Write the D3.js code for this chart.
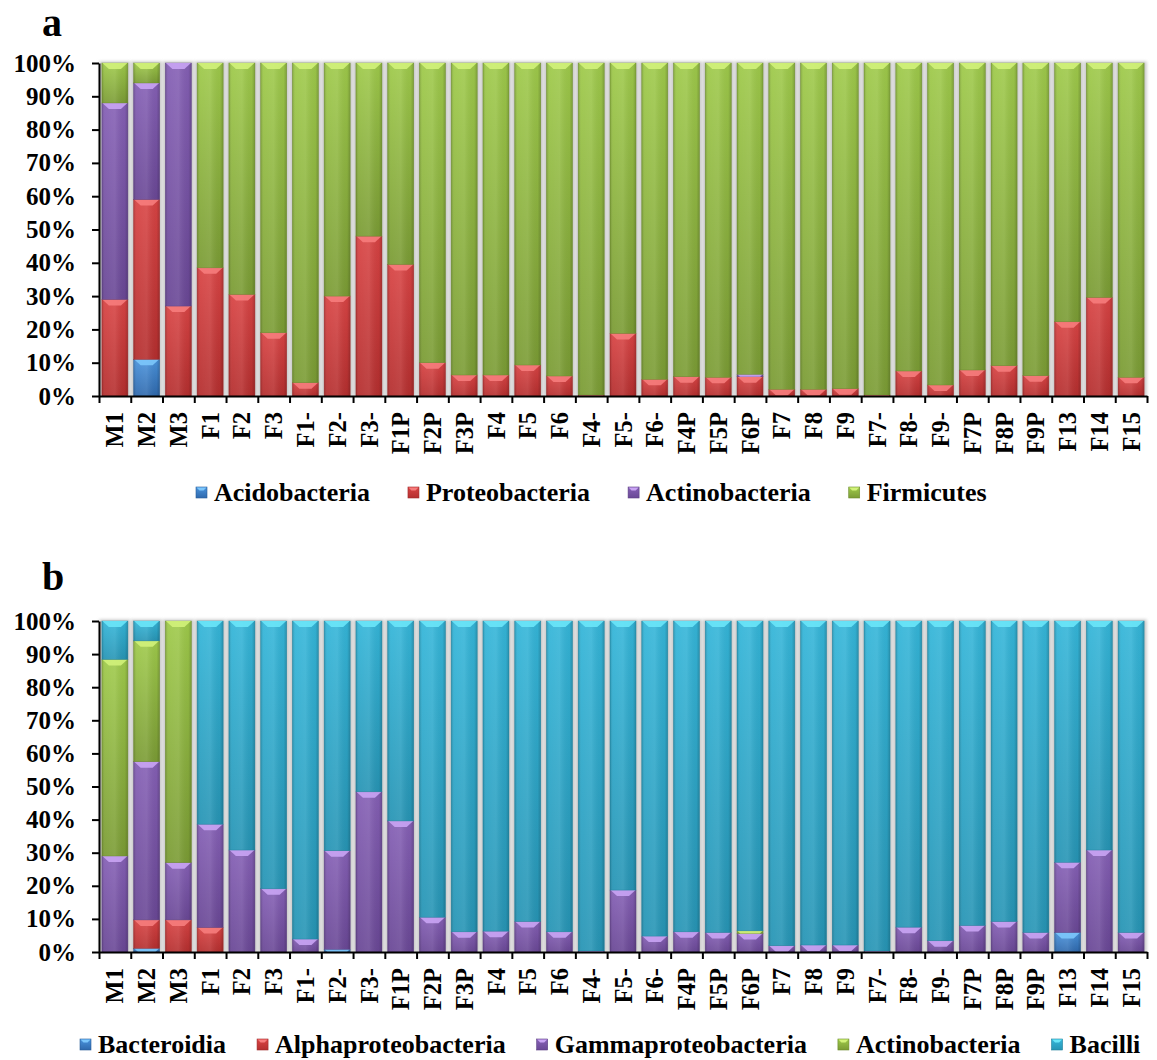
<!DOCTYPE html>
<html>
<head>
<meta charset="utf-8">
<script src="https://cdn.jsdelivr.net/npm/d3@7"></script>
<style>
  body { margin: 0; background: #fff; }
  text { font-family: "Liberation Serif", "Times New Roman", serif; font-weight: bold; fill: #000; }
</style>
</head>
<body>
<svg id="chart" width="1157" height="1060"></svg>
<script>
// Sample names (x categories), shared by both panels
const samples = ["M1","M2","M3","F1","F2","F3","F1-","F2-","F3-","F1P","F2P","F3P",
  "F4","F5","F6","F4-","F5-","F6-","F4P","F5P","F6P","F7","F8","F9",
  "F7-","F8-","F9-","F7P","F8P","F9P","F13","F14","F15"];

// Panel a: relative abundance (%) at phylum level
const phylumNames = ["Acidobacteria","Proteobacteria","Actinobacteria","Firmicutes"];
const acidobacteria  = [0,11,0,0,0,0,0,0,0,0,0,0,0,0,0,0,0,0,0,0,0,0,0,0,0,0,0,0,0,0,0,0,0];
const proteobacteria = [29,48,27,38.5,30.5,19,4,30,48,39.5,10,6.3,6.3,9.3,6,0.3,18.8,5,5.8,5.6,5.8,2,2,2.2,0.3,7.5,3.3,7.8,9.1,6.1,22.3,29.6,5.6];
const actinoPhylum   = [59,35,73,0,0,0,0,0,0,0,0,0,0,0,0,0,0,0,0,0,0.7,0,0,0,0,0,0,0,0,0,0,0,0];
const firmicutes     = [12,6,0,61.5,69.5,81,96,70,52,60.5,90,93.7,93.7,90.7,94,99.7,81.2,95,94.2,94.4,93.5,98,98,97.8,99.7,92.5,96.7,92.2,90.9,93.9,77.7,70.4,94.4];

// Panel b: relative abundance (%) at class level
const classNames = ["Bacteroidia","Alphaproteobacteria","Gammaproteobacteria","Actinobacteria","Bacilli"];
const bacteroidia = [0,1.1,0,0,0,0,0,0.8,0,0,0,0,0,0,0,0,0,0,0,0,0,0,0,0,0,0,0,0,0,0,5.9,0,0];
const alphaproteo = [0,8.6,9.7,7.4,0,0,0,0,0,0,0,0,0,0,0,0,0,0,0,0,0,0,0,0,0,0,0,0,0,0,0,0,0];
const gammaproteo = [29,47.8,17.3,31.2,30.8,19.1,3.9,29.8,48.4,39.6,10.5,6.1,6.3,9.2,6.1,0.3,18.7,4.8,6.1,5.9,5.6,1.9,2.1,2.1,0.3,7.5,3.4,8,9.2,5.9,21.2,30.8,5.9];
const actinoClass = [59.4,36.5,73,0,0,0,0,0,0,0,0,0,0,0,0,0,0,0,0,0,0.8,0,0,0,0,0,0,0,0,0,0,0,0];
const bacilli     = [11.6,6,0,61.4,69.2,80.9,96.1,69.4,51.6,60.4,89.5,93.9,93.7,90.8,93.9,99.7,81.3,95.2,93.9,94.1,93.6,98.1,97.9,97.9,99.7,92.5,96.6,92,90.8,94.1,72.9,69.2,94.1];

const yTicks = [0,10,20,30,40,50,60,70,80,90,100];

// Bevelled fill styles: light top, dark bottom, bevel highlight, edge
const palettes = {
  blue:   { top: "#4a93dc", bot: "#2f69ad", bevel: "#7cc6fb", edge: "#2a5c96" },
  red:    { top: "#d84444", bot: "#b52f2f", bevel: "#f67c7c", edge: "#9e2a2a" },
  purple: { top: "#8560b5", bot: "#6a4896", bevel: "#c9a4f4", edge: "#5b3e82" },
  green:  { top: "#9fca4b", bot: "#7b9c35", bevel: "#d2f27a", edge: "#6b8a2c" },
  teal:   { top: "#35b6d9", bot: "#2795b5", bevel: "#6ae6f8", edge: "#20809c" }
};

const svg = d3.select("#chart");
const defs = svg.append("defs");

Object.entries(palettes).forEach(([k, p]) => {
  const g = defs.append("linearGradient").attr("id", "v-" + k)
    .attr("x1", 0).attr("y1", 0).attr("x2", 0).attr("y2", 1);
  g.append("stop").attr("offset", "0%").attr("stop-color", p.top);
  g.append("stop").attr("offset", "100%").attr("stop-color", p.bot);
  const h = defs.append("linearGradient").attr("id", "h-" + k)
    .attr("x1", 0).attr("y1", 0).attr("x2", 1).attr("y2", 0);
  h.append("stop").attr("offset", "0%").attr("stop-color", "#000").attr("stop-opacity", 0.18);
  h.append("stop").attr("offset", "12%").attr("stop-color", "#fff").attr("stop-opacity", 0.06);
  h.append("stop").attr("offset", "50%").attr("stop-color", "#fff").attr("stop-opacity", 0.1);
  h.append("stop").attr("offset", "88%").attr("stop-color", "#000").attr("stop-opacity", 0.04);
  h.append("stop").attr("offset", "100%").attr("stop-color", "#000").attr("stop-opacity", 0.2);
});

const shadow = defs.append("filter").attr("id", "barShadow")
  .attr("x", "-30%").attr("y", "-5%").attr("width", "160%").attr("height", "110%");
shadow.append("feGaussianBlur").attr("stdDeviation", 1.4);

const left = 99, right = 1147;

function drawPanel(cfg) {
  const g = svg.append("g");
  const x = d3.scaleBand().domain(samples).range([left, right]).paddingInner(0.18).paddingOuter(0.09);
  const y = d3.scaleLinear().domain([0, 100]).range([cfg.y0, cfg.y100]);

  const table = samples.map((s, i) => {
    const row = { sample: s };
    cfg.keys.forEach((k, j) => row[k] = cfg.series[j][i]);
    return row;
  });
  const stacked = d3.stack().keys(cfg.keys)(table);

  // soft grey halo behind each column
  g.append("g").selectAll("rect").data(samples).join("rect")
    .attr("x", d => x(d) - 2.5)
    .attr("y", y(100) - 1.5)
    .attr("width", x.bandwidth() + 5)
    .attr("height", y(0) - y(100) + 1.5)
    .attr("fill", "#c9c9c9")
    .attr("filter", "url(#barShadow)");

  const layers = g.append("g").selectAll("g").data(stacked).join("g");
  layers.each(function(layer, li) {
    const pal = cfg.colors[li];
    const segs = layer.map((d, i) => ({ s: samples[i], y0: d[0], y1: d[1] })).filter(d => d.y1 - d.y0 > 0);
    const sel = d3.select(this).selectAll("g").data(segs).join("g");
    sel.append("rect")
      .attr("x", d => x(d.s)).attr("y", d => y(d.y1))
      .attr("width", x.bandwidth())
      .attr("height", d => Math.max(0.6, y(d.y0) - y(d.y1)))
      .attr("fill", `url(#v-${pal})`);
    sel.append("rect")
      .attr("x", d => x(d.s)).attr("y", d => y(d.y1))
      .attr("width", x.bandwidth())
      .attr("height", d => Math.max(0.6, y(d.y0) - y(d.y1)))
      .attr("fill", `url(#h-${pal})`)
      .attr("stroke", palettes[pal].edge).attr("stroke-width", 0.6).attr("stroke-opacity", 0.7);
    // top bevel highlight
    sel.append("path")
      .attr("d", d => {
        const x0 = x(d.s), w = x.bandwidth(), t = y(d.y1);
        const h = Math.min(6, y(d.y0) - y(d.y1));
        const inset = Math.min(7, h * 1.2);
        return `M${x0 + 0.5},${t}L${x0 + w - 0.5},${t}L${x0 + w - inset},${t + h}L${x0 + inset},${t + h}Z`;
      })
      .attr("fill", palettes[pal].bevel).attr("opacity", 0.9);
  });

  // y axis
  const ya = g.append("g").attr("transform", `translate(${left},0)`)
    .call(d3.axisLeft(y).tickValues(yTicks).tickFormat(d => d + "%").tickSize(7).tickSizeOuter(0));
  ya.select(".domain").attr("stroke", "#000").attr("stroke-width", 2);
  ya.selectAll(".tick line").attr("stroke", "#000").attr("stroke-width", 2);
  ya.selectAll(".tick text").attr("x", -23).attr("font-size", 25)
    .style("font-family", '"Liberation Serif", serif').style("font-weight", "bold");

  // x axis line with ticks on category boundaries
  const bounds = d3.scaleLinear().domain([0, samples.length]).range([left, right]);
  const xa = g.append("g").attr("transform", `translate(0,${cfg.y0})`)
    .call(d3.axisBottom(bounds).tickValues(d3.range(0, samples.length + 1)).tickFormat("").tickSize(7).tickSizeOuter(0));
  xa.select(".domain").attr("stroke", "#000").attr("stroke-width", 2);
  xa.selectAll(".tick line").attr("stroke", "#000").attr("stroke-width", 2);

  // rotated category labels
  g.append("g").selectAll("text").data(samples).join("text")
    .attr("transform", d => `translate(${x(d) + x.bandwidth() / 2},${cfg.y0 + 16}) rotate(-90)`)
    .attr("text-anchor", "end").attr("dy", "0.35em")
    .attr("font-size", 24.5).text(d => d);

  // panel letter
  svg.append("text").attr("x", cfg.letterX).attr("y", cfg.letterY)
    .attr("font-size", 40).text(cfg.letter);

  // legend: square swatch then name, laid out left to right
  const lg = svg.append("g");
  const items = lg.selectAll("g").data(cfg.names).join("g");
  items.append("text").attr("x", 18).attr("y", 0).attr("dy", "0.35em")
    .attr("font-size", 26).text(d => d);
  let cx = cfg.legendX;
  items.each(function() {
    const w = d3.select(this).select("text").node().getComputedTextLength();
    d3.select(this).attr("transform", `translate(${cx},${cfg.legendY})`);
    cx += 18 + w + cfg.legendGap;
  });
  items.append("rect").attr("x", 0).attr("y", -5).attr("width", 11).attr("height", 11)
    .attr("fill", (d, i) => `url(#v-${cfg.colors[i]})`)
    .attr("stroke", (d, i) => palettes[cfg.colors[i]].edge).attr("stroke-width", 0.6);
  items.append("path").attr("d", "M0.5,-4.5L10.5,-4.5L7.5,-1.5L3.5,-1.5Z")
    .attr("fill", (d, i) => palettes[cfg.colors[i]].bevel);
}

drawPanel({
  letter: "a", letterX: 42, letterY: 36,
  y0: 396, y100: 63,
  keys: phylumNames,
  names: phylumNames,
  series: [acidobacteria, proteobacteria, actinoPhylum, firmicutes],
  colors: ["blue", "red", "purple", "green"],
  legendY: 492, legendX: 196, legendGap: 38
});

drawPanel({
  letter: "b", letterX: 42, letterY: 590,
  y0: 952, y100: 621,
  keys: ["Bacteroidia","Alphaproteobacteria","Gammaproteobacteria","ActinobacteriaClass","Bacilli"],
  names: classNames,
  series: [bacteroidia, alphaproteo, gammaproteo, actinoClass, bacilli],
  colors: ["blue", "red", "purple", "green", "teal"],
  legendY: 1044, legendX: 80, legendGap: 31
});
</script>
</body>
</html>
